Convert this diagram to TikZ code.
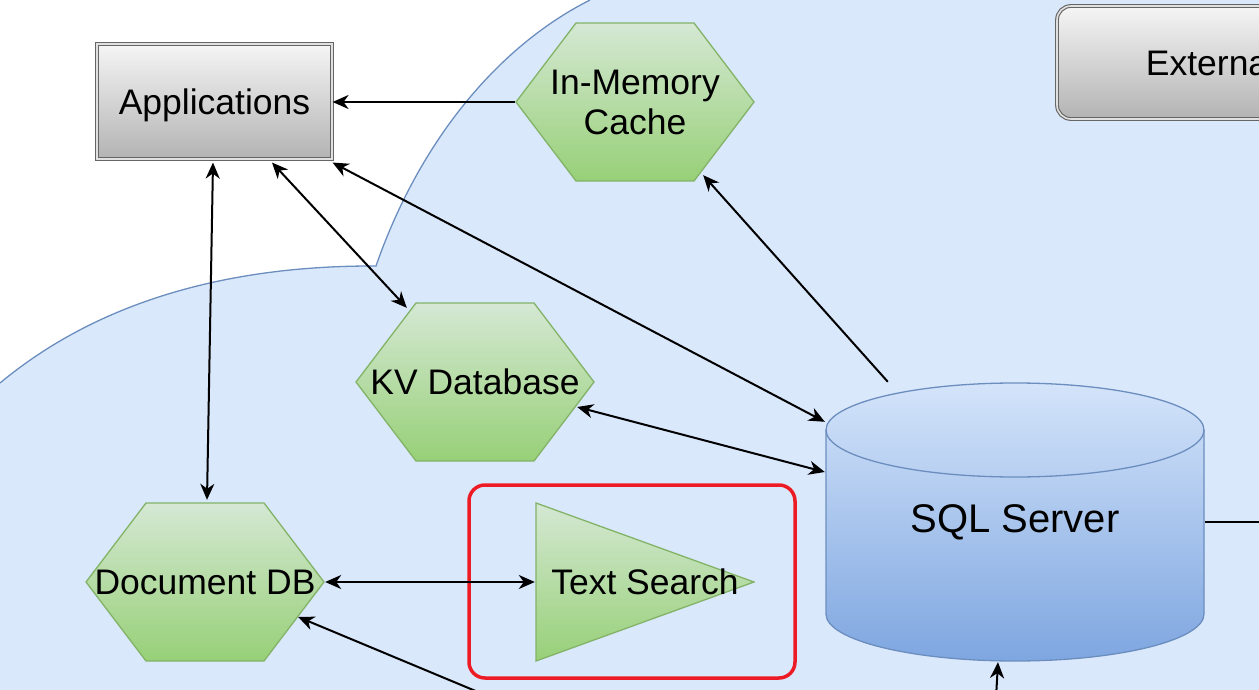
\documentclass[tikz,border=0pt]{standalone}
\usepackage{fontspec}
\setmainfont{Liberation Sans}
\usetikzlibrary{arrows.meta}
\definecolor{zoneblue}{HTML}{DAE8FC}
\definecolor{zoneline}{HTML}{6C8EBF}
\definecolor{hexline}{HTML}{82B366}
\definecolor{hextop}{HTML}{D5E8D4}
\definecolor{hexbot}{HTML}{97D077}
\definecolor{dbtop}{HTML}{D4E4FA}
\definecolor{dbbot}{HTML}{7EA6E0}
\definecolor{boxtop}{HTML}{F5F5F5}
\definecolor{boxbot}{HTML}{B3B3B3}
\definecolor{boxline}{HTML}{666666}
\definecolor{focusred}{HTML}{ED1C24}
\tikzset{
  label font/.style={font=\fontsize{35.5}{40}\selectfont},
  greybox/.style={label font, draw=boxline, double=white!88!black, double distance=1.6pt,
    line width=1.1pt, top color=boxtop, bottom color=boxbot, inner sep=0pt, text depth=0pt},
  hexa/.style={label font, align=center, inner sep=0pt, minimum width=240pt, minimum height=160pt,
    path picture={
      \shadedraw[top color=hextop, bottom color=hexbot, draw=hexline, line width=1.3pt]
        ([xshift=1pt]path picture bounding box.west)
        -- ([xshift=-59pt,yshift=-1pt]path picture bounding box.north)
        -- ([xshift=59pt,yshift=-1pt]path picture bounding box.north)
        -- ([xshift=-1pt]path picture bounding box.east)
        -- ([xshift=59pt,yshift=1pt]path picture bounding box.south)
        -- ([xshift=-59pt,yshift=1pt]path picture bounding box.south)
        -- cycle;
    }},
  tria/.style={label font, inner sep=0pt, minimum width=220pt, minimum height=160pt,
    path picture={
      \shadedraw[top color=hextop, bottom color=hexbot, draw=hexline, line width=1.3pt]
        ([xshift=1pt,yshift=-1pt]path picture bounding box.north west)
        -- ([xshift=-1pt]path picture bounding box.east)
        -- ([xshift=1pt,yshift=1pt]path picture bounding box.south west)
        -- cycle;
    }},
  cyl/.style={font=\fontsize{40}{46}\selectfont, inner sep=0pt, minimum width=380pt, minimum height=280pt,
    path picture={
      \shadedraw[top color=dbtop, bottom color=dbbot, draw=zoneline, line width=1.3pt]
        ([xshift=1pt,yshift=92pt]path picture bounding box.west)
        -- ([xshift=1pt,yshift=-92pt]path picture bounding box.west) arc (180:360:189pt and 47pt)
        -- ([xshift=-1pt,yshift=92pt]path picture bounding box.east) arc (0:180:189pt and 47pt)
        -- cycle;
      \draw[zoneline, line width=1.3pt]
        ([xshift=1pt,yshift=92pt]path picture bounding box.west) arc (180:360:189pt and 47pt);
    }},
  focusbox/.style={draw=focusred, line width=3.5pt, rounded corners=16pt,
    minimum width=326pt, minimum height=193pt},
  link/.style={line width=2pt}
}
\begin{document}
\begin{tikzpicture}[x=1pt,y=-1pt,>={Stealth[length=16pt,width=14pt,inset=5pt]}]
  \useasboundingbox (0,0) rectangle (1259,690);
  \clip (0,0) rectangle (1259,690);
  \fill[zoneblue] (0,383) .. controls (100,300) and (230,266) .. (372,266) -- (376,266)
    .. controls (418,145) and (495,48) .. (590,0) -- (1259,0) -- (1259,690) -- (0,690) -- cycle;
  \draw[zoneline,line width=1.3pt] (0,383) .. controls (100,300) and (230,266) .. (372,266) -- (376,266)
    .. controls (418,145) and (495,48) .. (590,0);

  \node[greybox, minimum width=235pt, minimum height=115pt] (apps) at (214.5,101.5) {Applications};
  \node[greybox, rounded corners=14pt, minimum width=308pt, minimum height=113pt] (ext) at (1211,62.5) {External};
  \node[hexa] (cache) at (635,102) {In-Memory\\Cache};
  \node[hexa] (kv) at (475,382) {KV Database};
  \node[hexa] (docdb) at (205,582) {Document DB};
  \node[tria] (search) at (645,582) {Text Search};
  \node[focusbox] (focus) at (632,581.5) {};
  \node[cyl] (sql) at (1015,522) {SQL Server};
  \coordinate (lowdoc) at (490,697);
  \coordinate (lowsql) at (996,698);
  \coordinate (rightsql) at (1270,522);

  \draw[link,->] (cache.west) -- (apps.east |- cache.west);
  \draw[link,->] ([xshift=63pt]sql.north west) -- ([xshift=-52pt,yshift=7pt]cache.south east);
  \draw[link,<->] ([yshift=-3pt]apps.south east) -- ([yshift=-40pt]sql.north west);
  \draw[link,<->] ([xshift=57.5pt,yshift=-3pt]apps.south) -- ([xshift=52pt,yshift=-6pt]kv.north west);
  \draw[link,<->] ([xshift=-1.5pt,yshift=-3pt]apps.south) -- ([xshift=2pt,yshift=2pt]docdb.north);
  \draw[link,<->] ([xshift=-18pt,yshift=-25pt]kv.east) -- ([yshift=50pt]sql.west);
  \draw[link,<->] (docdb.east) -- (search.west);
  \draw[link,->] (lowdoc) -- ([xshift=-27pt,yshift=-35pt]docdb.east);
  \draw[link,->] (lowsql) -- ([xshift=-17pt]sql.south);
  \draw[link] (sql.east) -- (rightsql);
\end{tikzpicture}
\end{document}
